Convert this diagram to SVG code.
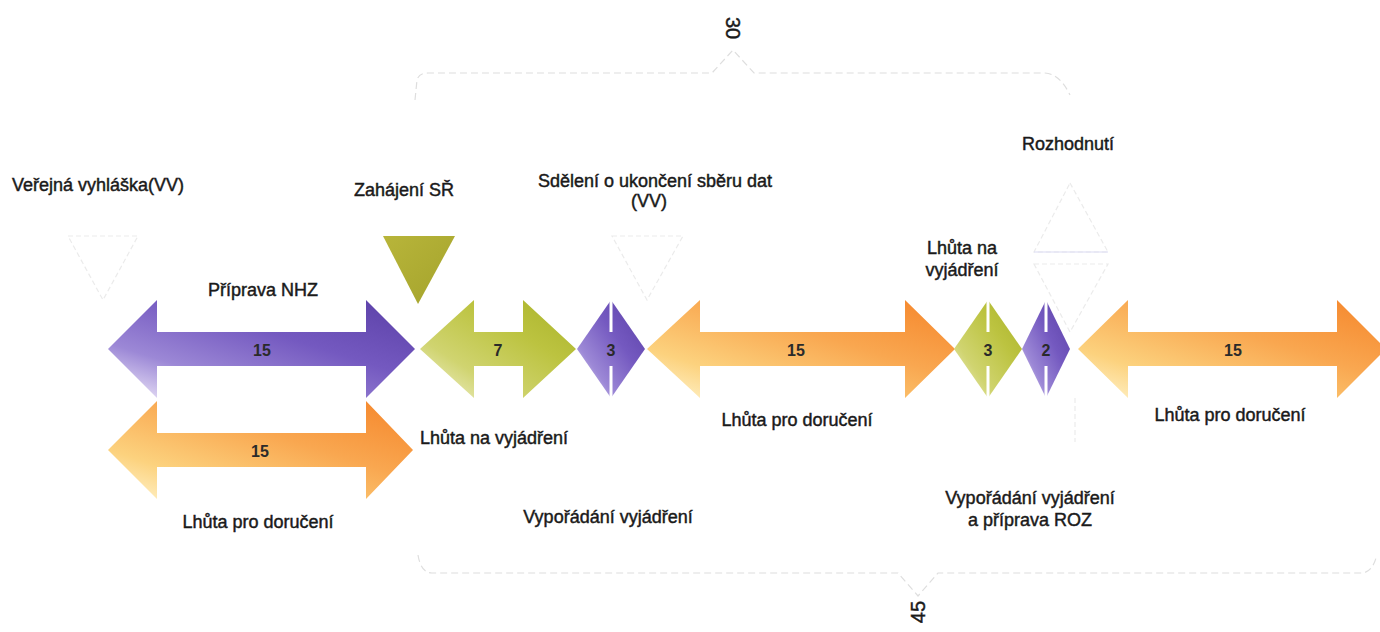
<svg xmlns="http://www.w3.org/2000/svg" width="1380" height="632" viewBox="0 0 1380 632">
  <defs>
    <linearGradient id="gPurple" x1="0" y1="1" x2="1" y2="0">
      <stop offset="0" stop-color="#f4effb"/>
      <stop offset="0.28" stop-color="#9c88d6"/>
      <stop offset="0.6" stop-color="#7459c0"/>
      <stop offset="1" stop-color="#5a3fa6"/>
    </linearGradient>
    <linearGradient id="gOrange" x1="0" y1="1" x2="1" y2="0">
      <stop offset="0" stop-color="#fff6d2"/>
      <stop offset="0.25" stop-color="#fcd27e"/>
      <stop offset="0.6" stop-color="#f9a750"/>
      <stop offset="1" stop-color="#f5852a"/>
    </linearGradient>
    <linearGradient id="gGreen" x1="0" y1="1" x2="1" y2="0">
      <stop offset="0" stop-color="#f3f3d6"/>
      <stop offset="0.3" stop-color="#d0d470"/>
      <stop offset="0.65" stop-color="#bcc340"/>
      <stop offset="1" stop-color="#a9b22a"/>
    </linearGradient>
    <linearGradient id="gOlive" x1="0" y1="0" x2="1" y2="1">
      <stop offset="0" stop-color="#b8b53a"/>
      <stop offset="1" stop-color="#a4a32c"/>
    </linearGradient>
  </defs>
  <style>
    .t { font-family: "Liberation Sans", Arial, sans-serif; font-size: 18px; fill: #1a1a1a; stroke: #1a1a1a; stroke-width: 0.45px; }
    .c { text-anchor: middle; }
    .n { font-family: "Liberation Sans", Arial, sans-serif; font-size: 16px; font-weight: bold; fill: #2a2a2a; text-anchor: middle; }
    .big { font-family: "Liberation Sans", Arial, sans-serif; font-size: 20px; fill: #1a1a1a; stroke: #1a1a1a; stroke-width: 0.45px; text-anchor: middle; }
    .faint { fill: none; stroke: #ebebeb; stroke-width: 1.2; stroke-dasharray: 5 3; }
    .brace { fill: none; stroke: #dedede; stroke-width: 1.2; stroke-dasharray: 7 4; }
    .slit { fill: #ffffff; }
  </style>
  <rect width="1380" height="632" fill="#ffffff"/>

  <g id="braces">
    <path class="brace" d="M415,100 L417,80 Q419,73 428,73 L712,73 L733,50 L754,73 L1045,73 Q1060,74 1070,95"/>
    <path class="brace" d="M418,555 Q421,573 432,573 L898,573 L918,596 L938,573 L1362,573 Q1372,572 1376,558"/>
    <text class="big" transform="translate(726,28) rotate(90)">30</text>
    <text class="big" transform="translate(925,612) rotate(-90)">45</text>
  </g>

  <g id="vv-marker">
    <path class="faint" d="M68,236 L138,236 L103,300 Z"/>
    <text class="t" x="12" y="191">Veřejná vyhláška(VV)</text>
  </g>

  <g id="zahajeni-sr">
    <path d="M383,236 L455,236 L418,304 Z" fill="url(#gOlive)"/>
    <text class="t c" x="404" y="196">Zahájení SŘ</text>
  </g>

  <g id="sdeleni-marker">
    <path class="faint" d="M612,236 L683,236 L647,300 Z"/>
    <text class="t c" x="655" y="187">Sdělení o ukončení sběru dat</text>
    <text class="t c" x="649" y="207">(VV)</text>
  </g>

  <g id="rozhodnuti-marker">
    <path class="faint" d="M1070,183 L1108,252 L1034,252 Z"/>
    <line x1="1034" y1="252" x2="1108" y2="252" stroke="#dcdcf4" stroke-width="1.2"/>
    <path class="faint" d="M1034,264 L1108,264 L1070,332 Z"/>
    <line class="faint" x1="1075" y1="398" x2="1075" y2="442"/>
    <text class="t c" x="1068" y="150">Rozhodnutí</text>
  </g>

  <g id="priprava-nhz">
    <path d="M108,349 L157,300 L157,332 L366,332 L366,300 L415,349 L366,398 L366,366 L157,366 L157,398 Z" fill="url(#gPurple)"/>
    <text class="n" x="262" y="356">15</text>
    <text class="t c" x="263" y="296">Příprava NHZ</text>
  </g>

  <g id="doruceni-1">
    <path d="M108,450 L157,401 L157,433 L366,433 L366,401 L413,450 L366,499 L366,467 L157,467 L157,499 Z" fill="url(#gOrange)"/>
    <text class="n" x="260" y="457">15</text>
    <text class="t c" x="258" y="528">Lhůta pro doručení</text>
  </g>

  <g id="vyjadreni-7">
    <path d="M420,349 L474,300 L474,332 L523,332 L523,300 L576,349 L523,398 L523,366 L474,366 L474,398 Z" fill="url(#gGreen)"/>
    <text class="n" x="498" y="356">7</text>
    <text class="t" x="420" y="444">Lhůta na vyjádření</text>
  </g>

  <g id="vyporadani-3">
    <path d="M577,349 L611,300 L645,349 L611,398 Z" fill="url(#gPurple)"/>
    <rect class="slit" x="609.5" y="298" width="3" height="34"/>
    <rect class="slit" x="609.5" y="366" width="3" height="34"/>
    <text class="n" x="611" y="356">3</text>
    <text class="t c" x="608" y="523">Vypořádání vyjádření</text>
  </g>

  <g id="doruceni-2">
    <path d="M647,349 L700,300 L700,332 L905,332 L905,300 L955,349 L905,398 L905,366 L700,366 L700,398 Z" fill="url(#gOrange)"/>
    <text class="n" x="796" y="356">15</text>
    <text class="t c" x="797" y="426">Lhůta pro doručení</text>
  </g>

  <g id="vyjadreni-3">
    <path d="M954,349 L988,300 L1022,349 L988,398 Z" fill="url(#gGreen)"/>
    <rect class="slit" x="986.5" y="298" width="3" height="34"/>
    <rect class="slit" x="986.5" y="366" width="3" height="34"/>
    <text class="n" x="988" y="356">3</text>
    <text class="t c" x="962" y="254">Lhůta na</text>
    <text class="t c" x="962" y="276">vyjádření</text>
  </g>

  <g id="vyporadani-2">
    <path d="M1022,349 L1046,300 L1070,349 L1046,398 Z" fill="url(#gPurple)"/>
    <rect class="slit" x="1044.5" y="298" width="3" height="34"/>
    <rect class="slit" x="1044.5" y="366" width="3" height="34"/>
    <text class="n" x="1046" y="356">2</text>
    <text class="t c" x="1030" y="504">Vypořádání vyjádření</text>
    <text class="t c" x="1030" y="526">a příprava ROZ</text>
  </g>

  <g id="doruceni-3">
    <path d="M1078,349 L1128,300 L1128,332 L1337,332 L1337,300 L1386,349 L1337,398 L1337,366 L1128,366 L1128,398 Z" fill="url(#gOrange)"/>
    <text class="n" x="1233" y="356">15</text>
    <text class="t c" x="1230" y="421">Lhůta pro doručení</text>
  </g>
</svg>
